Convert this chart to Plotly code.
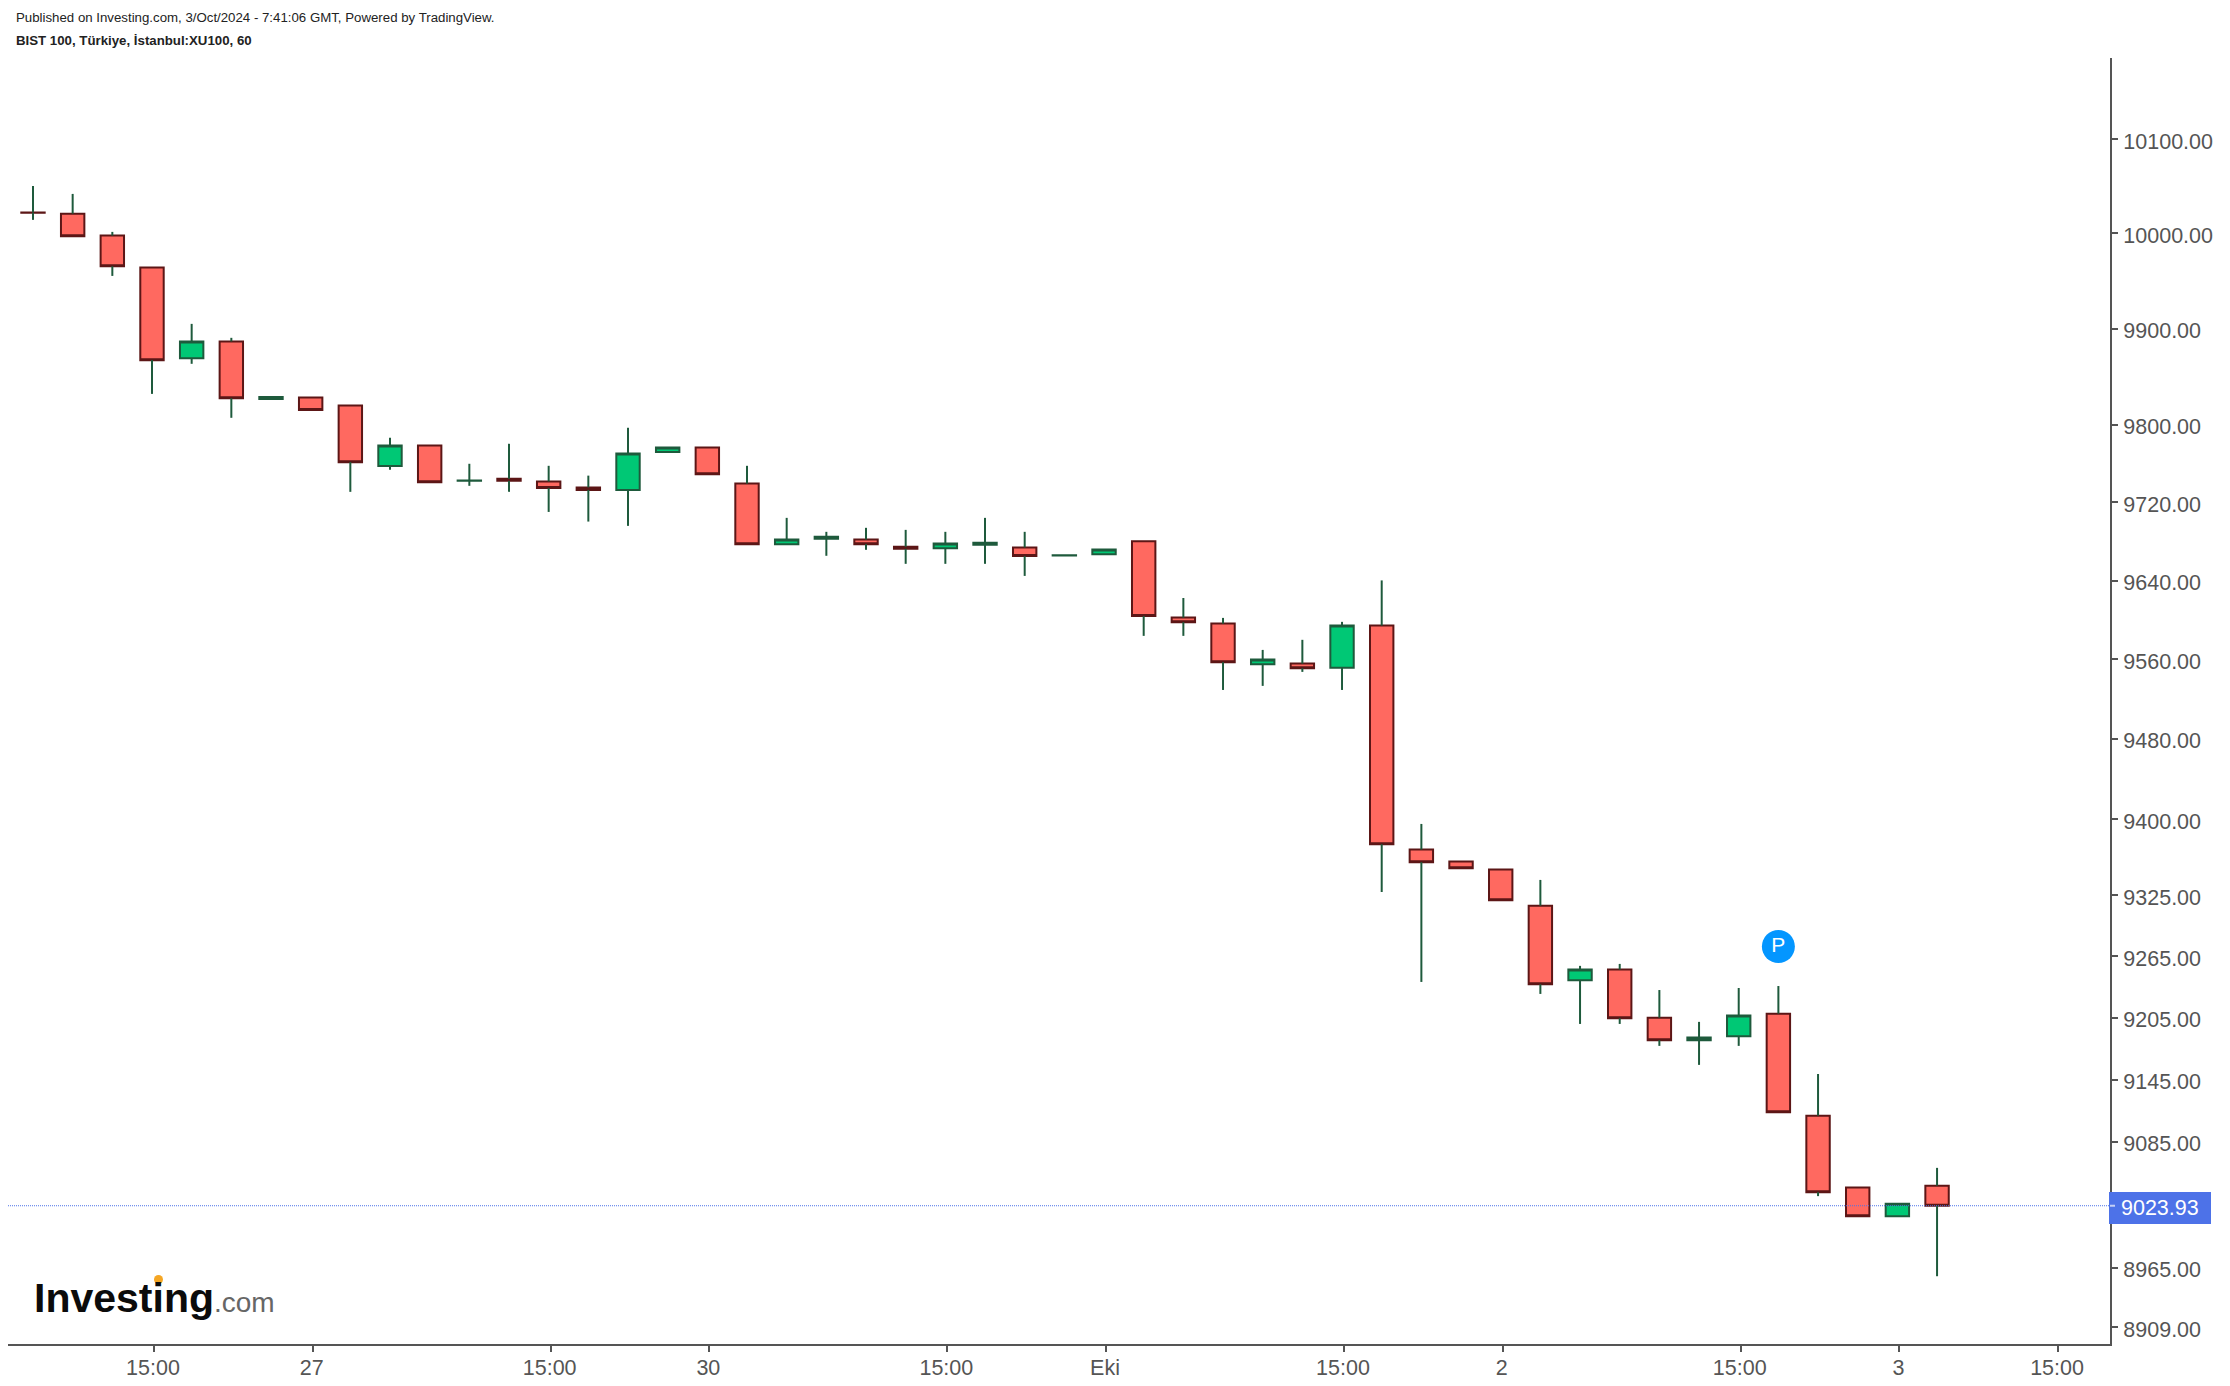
import math
import plotly.graph_objects as go

W, H = 2230, 1386
L, R, T, B = 8, 2110, 58, 1344

bar_pos = list(range(49))
opens = [10022.2,10020.9,9997.7,9964.0,9869.1,9886.5,9826.7,9828.1,9819.8,9757.2,
         9778.5,9742.2,9744.1,9741.4,9735.3,9732.7,9771.7,9776.4,9739.2,9677.1,
         9682.5,9681.8,9674.4,9673.0,9676.4,9673.7,9665.6,9666.9,9680.0,9602.3,
         9596.2,9555.2,9555.8,9551.7,9594.2,9369.9,9358.0,9350.1,9314.5,9241.5,
         9251.9,9205.0,9183.1,9187.0,9208.9,9110.2,9041.4,9013.9,9043.1]
highs = [10050.2,10041.8,10001.6,9964.0,9904.9,9890.3,9828.8,9828.1,9819.8,9786.4,
         9778.5,9759.6,9780.2,9757.5,9747.4,9796.8,9776.4,9776.4,9757.5,9704.0,
         9689.7,9693.8,9691.7,9689.7,9704.0,9689.7,9665.8,9671.6,9680.0,9622.2,
         9602.0,9569.6,9579.8,9598.0,9640.1,9395.3,9358.0,9350.1,9339.9,9255.5,
         9257.4,9231.9,9200.9,9233.9,9235.8,9150.4,9041.4,9025.9,9060.1]
lows = [10014.3,9997.1,9955.2,9831.9,9863.2,9807.1,9826.7,9815.1,9730.7,9753.4,
        9740.7,9736.9,9730.7,9710.1,9700.2,9695.8,9771.7,9748.9,9677.1,9677.1,
        9665.2,9671.3,9657.0,9657.0,9657.0,9644.7,9665.6,9666.9,9583.8,9583.8,
        9529.2,9533.3,9547.4,9529.2,9328.0,9239.8,9351.5,9319.8,9228.1,9198.9,
        9198.9,9177.6,9159.2,9177.6,9113.5,9033.1,9013.9,9013.9,8957.0]
closes = [10021.8,9997.1,9965.4,9867.0,9886.5,9827.4,9828.8,9815.1,9761.3,9778.5,
          9740.7,9742.4,9742.0,9734.6,9732.7,9770.2,9776.4,9748.9,9677.1,9681.8,
          9684.6,9677.1,9672.3,9677.7,9678.5,9664.9,9665.8,9671.6,9604.0,9597.7,
          9557.2,9559.8,9551.1,9594.2,9375.2,9357.4,9351.5,9319.8,9237.5,9251.9,
          9204.5,9183.1,9185.7,9207.0,9113.5,9036.8,9013.9,9025.9,9023.93]

last_price = 9023.93
pin_pos = [44]
pin_price = [9274.4]
pin_label = ["P"]

x_tick_pos = [3.05, 7.05, 13.05, 17.05, 23.05, 27.05, 33.05, 37.05, 43.05, 47.05, 51.05]
x_tick_labels = ["15:00", "27", "15:00", "30", "15:00", "Eki", "15:00", "2", "15:00", "3", "15:00"]
y_tick_vals = [10100, 10000, 9900, 9800, 9720, 9640, 9560, 9480, 9400, 9325, 9265, 9205, 9145, 9085, 8965, 8909]
y_tick_labels = [f"{v:.2f}" for v in y_tick_vals]
x_range = [-0.63, 52.36]
y_range = [8893.1, 10187.0]

published = "Published on Investing.com, 3/Oct/2024 - 7:41:06 GMT, Powered by TradingView."
symbol = "BIST 100, Türkiye, İstanbul:XU100, 60"

GREEN, GREEN_EDGE = "#00c875", "#1e5a3c"
RED, RED_EDGE = "#ff6960", "#5c1616"
AXIS = "#555555"
BADGE = "#4d72e8"
FONT = "Liberation Sans, Arial, sans-serif"


def px(x):
    return (x - L) / (R - L)


def py(y):
    return (B - y) / (B - T)


wick_x, wick_y = [], []
for i, o, h, l, c in zip(bar_pos, opens, highs, lows, closes):
    top, bottom = max(o, c), min(o, c)
    if h > top:
        wick_x += [i, i, None]
        wick_y += [h, top, None]
    if l < bottom:
        wick_x += [i, i, None]
        wick_y += [bottom, l, None]

fig = go.Figure()
fig.add_trace(go.Candlestick(
    x=bar_pos, open=opens, close=closes,
    high=[max(o, c) for o, c in zip(opens, closes)],
    low=[min(o, c) for o, c in zip(opens, closes)],
    increasing=dict(fillcolor=GREEN, line=dict(color=GREEN_EDGE, width=2)),
    decreasing=dict(fillcolor=RED, line=dict(color=RED_EDGE, width=2)),
    whiskerwidth=0, hoverinfo="skip", showlegend=False,
))
fig.add_trace(go.Scatter(
    x=wick_x, y=wick_y, mode="lines", connectgaps=False,
    line=dict(color=GREEN_EDGE, width=2), hoverinfo="skip", showlegend=False,
))
fig.add_trace(go.Scatter(
    x=pin_pos, y=pin_price, mode="markers+text", text=pin_label,
    textposition="middle center",
    textfont=dict(color="white", size=21, family=FONT),
    marker=dict(color="#0496ff", size=33, line=dict(width=0)),
    hoverinfo="skip", showlegend=False,
))

fig.add_shape(type="line", xref="paper", yref="y", x0=0, x1=1, y0=last_price, y1=last_price,
              line=dict(color=BADGE, width=1, dash="1px,1px"), layer="above")
fig.add_shape(type="rect", xref="paper", yref="paper", x0=px(2109), x1=px(2211), y0=py(1224), y1=py(1192),
              fillcolor=BADGE, line=dict(width=0), layer="above")
fig.add_shape(type="line", xref="paper", yref="y", x0=px(2110), x1=px(2115), y0=last_price, y1=last_price,
              line=dict(color="#c4cff5", width=2), layer="above")

fig.add_annotation(xref="paper", yref="paper", x=px(2160), y=py(1208), xanchor="center", yanchor="middle",
                   text=f"{last_price:.2f}", showarrow=False, borderpad=0,
                   font=dict(color="white", size=21.5, family=FONT))
fig.add_annotation(xref="paper", yref="paper", x=px(15), y=py(17), xanchor="left", yanchor="middle",
                   borderpad=0, text=published, showarrow=False,
                   font=dict(color="#222222", size=13.25, family=FONT))
fig.add_annotation(xref="paper", yref="paper", x=px(15), y=py(40), xanchor="left", yanchor="middle",
                   borderpad=0, text=f"<b>{symbol}</b>", showarrow=False,
                   font=dict(color="#222222", size=13.25, family=FONT))
fig.add_annotation(xref="paper", yref="paper", x=px(33), y=py(1298), xanchor="left", yanchor="middle",
                   borderpad=0, showarrow=False,
                   text='<b>Investing</b><span style="font-size:28px;color:#666666">.com</span>',
                   font=dict(color="#0b0b0b", size=41, family=FONT))
fig.add_shape(type="circle", xref="paper", yref="paper", x0=px(154), x1=px(163), y0=py(1284), y1=py(1275),
              fillcolor="#f5a623", line=dict(width=0))

fig.update_layout(
    width=W, height=H,
    margin=dict(l=L, r=W - R, t=T, b=H - B, pad=0, autoexpand=False),
    paper_bgcolor="white", plot_bgcolor="white",
    boxgap=0.41, boxgroupgap=0, boxmode="overlay", showlegend=False,
    font=dict(family=FONT, color=AXIS, size=21.5),
    xaxis=dict(range=x_range, tickmode="array", tickvals=x_tick_pos, ticktext=x_tick_labels,
               automargin=False, showgrid=False, zeroline=False, showline=True, linecolor=AXIS, linewidth=2,
               ticks="outside", ticklen=6, tickwidth=2, tickcolor=AXIS, ticklabelstandoff=-3, ticklabelshift=-1,
               tickfont=dict(size=21.5, color=AXIS, family=FONT), rangeslider=dict(visible=False)),
    yaxis=dict(type="log", side="right", range=[math.log10(y_range[0]), math.log10(y_range[1])],
               automargin=False, tickmode="array", tickvals=y_tick_vals, ticktext=y_tick_labels,
               showgrid=False, zeroline=False, showline=True, linecolor=AXIS, linewidth=2,
               ticks="outside", ticklen=6, tickwidth=2, tickcolor=AXIS, ticklabelstandoff=1, ticklabelshift=2,
               tickfont=dict(size=21.5, color=AXIS, family=FONT)),
)

fig.write_html("out.html", config={"displayModeBar": False},
               post_script="document.body.style.margin='0';document.body.style.overflow='hidden';")
